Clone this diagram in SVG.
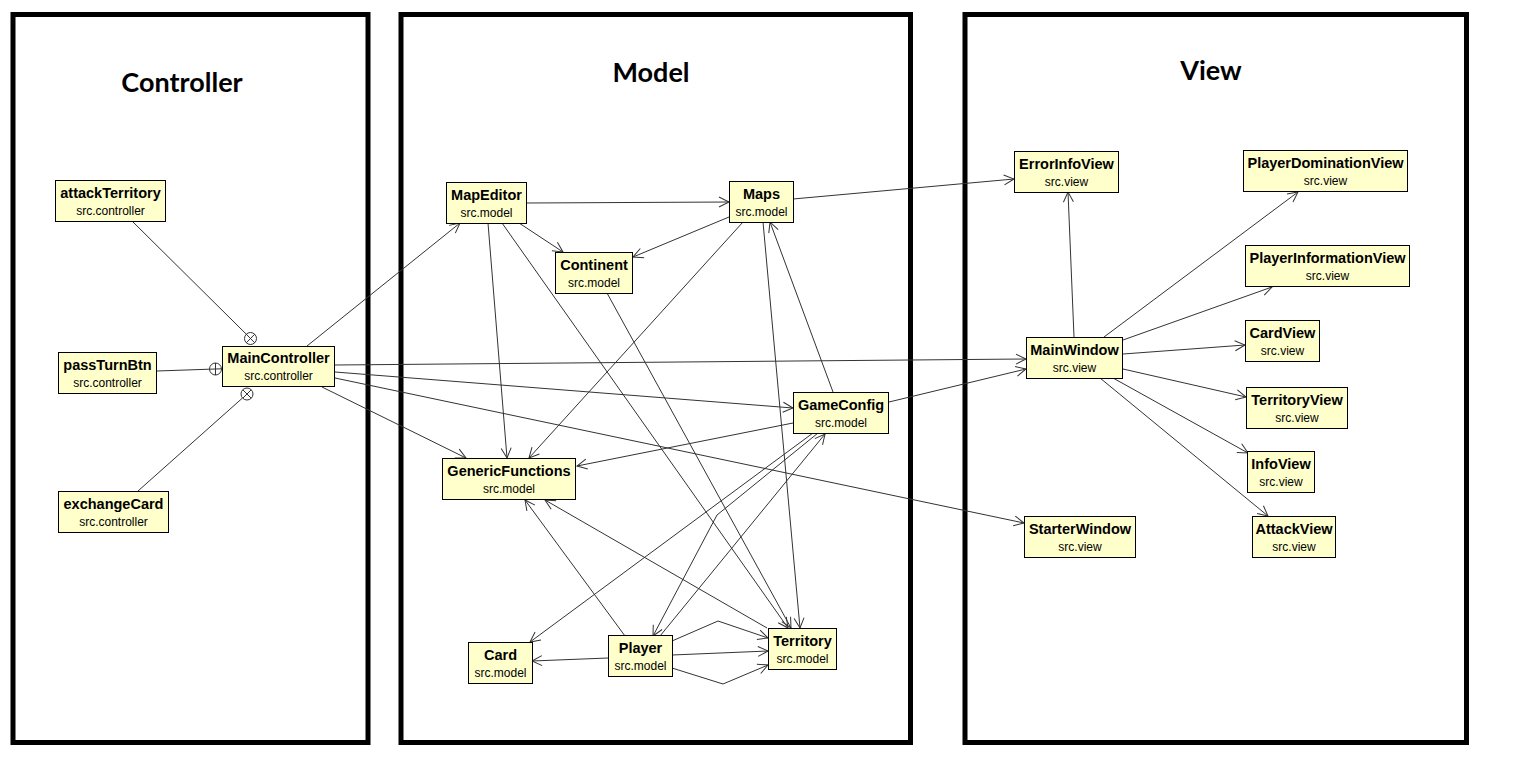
<svg xmlns="http://www.w3.org/2000/svg" width="1524" height="759" viewBox="0 0 1524 759">
<style>
.frame{fill:none;stroke:#000;stroke-width:5}
.title{font-family:Lato,"Liberation Sans",sans-serif;font-weight:bold;font-size:27px;fill:#000;text-anchor:middle}
.box{fill:#ffffcc;stroke:#000;stroke-width:1}
.n{font-family:"Liberation Sans",Arial,sans-serif;font-weight:bold;font-size:14.5px;fill:#000;text-anchor:middle}
.p{font-family:"Liberation Sans",Arial,sans-serif;font-size:12px;fill:#000;text-anchor:middle}
.c{fill:none;stroke:#333;stroke-width:1}
.a{marker-end:url(#arr)}
.nest{fill:#fff;stroke:#333;stroke-width:1}
</style>
<defs>
<marker id="arr" markerUnits="userSpaceOnUse" markerWidth="12" markerHeight="12" refX="10" refY="5" orient="auto" overflow="visible">
<path d="M0,0 L10,5 L0,10" fill="none" stroke="#333" stroke-width="1"/>
</marker>
</defs>
<rect width="1524" height="759" fill="#fff"/>
<g id="frames">
<rect class="frame" x="13" y="14.5" width="355" height="728"/>
<rect class="frame" x="401" y="14.5" width="509.5" height="728"/>
<rect class="frame" x="965" y="14.5" width="501.5" height="728"/>
<text class="title" x="182" y="92">Controller</text>
<text class="title" x="651" y="82">Model</text>
<text class="title" x="1211" y="80">View</text>
</g>
<g id="connectors">
<line class="c" x1="132" y1="221" x2="246.3" y2="334.2"/>
<circle class="nest" cx="250.5" cy="338.5" r="6"/>
<line class="c" x1="246.3" y1="334.2" x2="254.7" y2="342.8"/>
<line class="c" x1="246.3" y1="342.8" x2="254.7" y2="334.2"/>
<line class="c" x1="157" y1="371" x2="209.5" y2="369.2"/>
<circle class="nest" cx="215.5" cy="369" r="6"/>
<line class="c" x1="209.5" y1="369.2" x2="221.5" y2="368.8"/>
<line class="c" x1="215.5" y1="363" x2="215.5" y2="375"/>
<line class="c" x1="138" y1="491" x2="242.5" y2="398"/>
<circle class="nest" cx="247" cy="394" r="6"/>
<line class="c" x1="242.8" y1="389.8" x2="251.2" y2="398.2"/>
<line class="c" x1="242.8" y1="398.2" x2="251.2" y2="389.8"/>
<line class="c a" x1="307" y1="346" x2="460" y2="223"/>
<line class="c a" x1="335" y1="365" x2="1026" y2="359"/>
<line class="c a" x1="335" y1="372" x2="793" y2="408"/>
<line class="c a" x1="335" y1="378" x2="1024" y2="523"/>
<line class="c a" x1="322" y1="387" x2="466" y2="458"/>
<line class="c a" x1="527" y1="203" x2="729" y2="202"/>
<line class="c a" x1="519" y1="223" x2="563" y2="252"/>
<line class="c a" x1="488" y1="223" x2="507" y2="458"/>
<line class="c a" x1="502" y1="223" x2="788" y2="628"/>
<line class="c a" x1="607" y1="293" x2="791" y2="628"/>
<line class="c a" x1="793" y1="199" x2="1014" y2="179"/>
<line class="c a" x1="729" y1="217" x2="633" y2="257"/>
<line class="c a" x1="743" y1="222" x2="529" y2="458"/>
<line class="c a" x1="763" y1="222" x2="800" y2="628"/>
<line class="c a" x1="833" y1="392" x2="770" y2="222"/>
<line class="c a" x1="889" y1="402" x2="1026" y2="369"/>
<line class="c a" x1="793" y1="423" x2="577" y2="466"/>
<line class="c a" x1="813" y1="433" x2="530" y2="642"/>
<polyline class="c a" points="818,433 717,515 653,636"/>
<line class="c a" x1="660" y1="636" x2="825" y2="434"/>
<line class="c a" x1="625" y1="636" x2="525" y2="500"/>
<line class="c a" x1="767" y1="628" x2="545" y2="500"/>
<line class="c a" x1="608" y1="658" x2="532" y2="661"/>
<line class="c a" x1="672" y1="655" x2="768" y2="651"/>
<polyline class="c a" points="672,641 718,621 768,638"/>
<polyline class="c a" points="672,668 723,684 768,665"/>
<line class="c a" x1="1074" y1="337" x2="1068" y2="192"/>
<line class="c a" x1="1104" y1="337" x2="1298" y2="192"/>
<line class="c a" x1="1123" y1="340" x2="1272" y2="287"/>
<line class="c a" x1="1123" y1="354" x2="1245" y2="345"/>
<line class="c a" x1="1123" y1="369" x2="1246" y2="397"/>
<line class="c a" x1="1113" y1="378" x2="1248" y2="453"/>
<line class="c a" x1="1100" y1="378" x2="1268" y2="516"/>
</g>
<g id="attackTerritory"><rect class="box" x="55.5" y="180.5" width="110" height="41"/><text class="n" x="110.5" y="197.5">attackTerritory</text><text class="p" x="110.5" y="214.5">src.controller</text></g>
<g id="passTurnBtn"><rect class="box" x="58.5" y="352.5" width="98" height="41"/><text class="n" x="107.5" y="369.5">passTurnBtn</text><text class="p" x="107.5" y="386.5">src.controller</text></g>
<g id="MainController"><rect class="box" x="222.5" y="346.5" width="112" height="40"/><text class="n" x="278.5" y="362.5">MainController</text><text class="p" x="278.5" y="379.5">src.controller</text></g>
<g id="exchangeCard"><rect class="box" x="58.5" y="491.5" width="110" height="41"/><text class="n" x="113.5" y="508.5">exchangeCard</text><text class="p" x="113.5" y="525.5">src.controller</text></g>
<g id="MapEditor"><rect class="box" x="446.5" y="182.5" width="80" height="41"/><text class="n" x="486.5" y="199.5">MapEditor</text><text class="p" x="486.5" y="216.5">src.model</text></g>
<g id="Maps"><rect class="box" x="729.5" y="181.5" width="64" height="41"/><text class="n" x="761.5" y="198.5">Maps</text><text class="p" x="761.5" y="215.5">src.model</text></g>
<g id="Continent"><rect class="box" x="555.5" y="252.5" width="77" height="41"/><text class="n" x="594" y="269.5">Continent</text><text class="p" x="594" y="286.5">src.model</text></g>
<g id="GameConfig"><rect class="box" x="793.5" y="392.5" width="95" height="41"/><text class="n" x="841" y="409.5">GameConfig</text><text class="p" x="841" y="426.5">src.model</text></g>
<g id="GenericFunctions"><rect class="box" x="442.5" y="458.5" width="133" height="41"/><text class="n" x="509" y="475.5">GenericFunctions</text><text class="p" x="509" y="492.5">src.model</text></g>
<g id="Card"><rect class="box" x="468.5" y="642.5" width="64" height="41"/><text class="n" x="500.5" y="659.5">Card</text><text class="p" x="500.5" y="676.5">src.model</text></g>
<g id="Player"><rect class="box" x="608.5" y="635.5" width="64" height="41"/><text class="n" x="640.5" y="652.5">Player</text><text class="p" x="640.5" y="669.5">src.model</text></g>
<g id="Territory"><rect class="box" x="768.5" y="628.5" width="68" height="41"/><text class="n" x="802.5" y="645.5">Territory</text><text class="p" x="802.5" y="662.5">src.model</text></g>
<g id="ErrorInfoView"><rect class="box" x="1014.5" y="151.5" width="104" height="41"/><text class="n" x="1066.5" y="168.5">ErrorInfoView</text><text class="p" x="1066.5" y="185.5">src.view</text></g>
<g id="PlayerDominationView"><rect class="box" x="1243.5" y="150.5" width="164" height="41"/><text class="n" x="1325.5" y="167.5">PlayerDominationView</text><text class="p" x="1325.5" y="184.5">src.view</text></g>
<g id="PlayerInformationView"><rect class="box" x="1245.5" y="245.5" width="164" height="41"/><text class="n" x="1327.5" y="262.5">PlayerInformationView</text><text class="p" x="1327.5" y="279.5">src.view</text></g>
<g id="MainWindow"><rect class="box" x="1026.5" y="337.5" width="96" height="41"/><text class="n" x="1074.5" y="354.5">MainWindow</text><text class="p" x="1074.5" y="371.5">src.view</text></g>
<g id="CardView"><rect class="box" x="1245.5" y="320.5" width="74" height="41"/><text class="n" x="1282.5" y="337.5">CardView</text><text class="p" x="1282.5" y="354.5">src.view</text></g>
<g id="TerritoryView"><rect class="box" x="1246.5" y="387.5" width="101" height="41"/><text class="n" x="1297" y="404.5">TerritoryView</text><text class="p" x="1297" y="421.5">src.view</text></g>
<g id="InfoView"><rect class="box" x="1247.5" y="451.5" width="67" height="41"/><text class="n" x="1281" y="468.5">InfoView</text><text class="p" x="1281" y="485.5">src.view</text></g>
<g id="StarterWindow"><rect class="box" x="1024.5" y="516.5" width="111" height="41"/><text class="n" x="1080" y="533.5">StarterWindow</text><text class="p" x="1080" y="550.5">src.view</text></g>
<g id="AttackView"><rect class="box" x="1252.5" y="516.5" width="83" height="41"/><text class="n" x="1294" y="533.5">AttackView</text><text class="p" x="1294" y="550.5">src.view</text></g>
</svg>
